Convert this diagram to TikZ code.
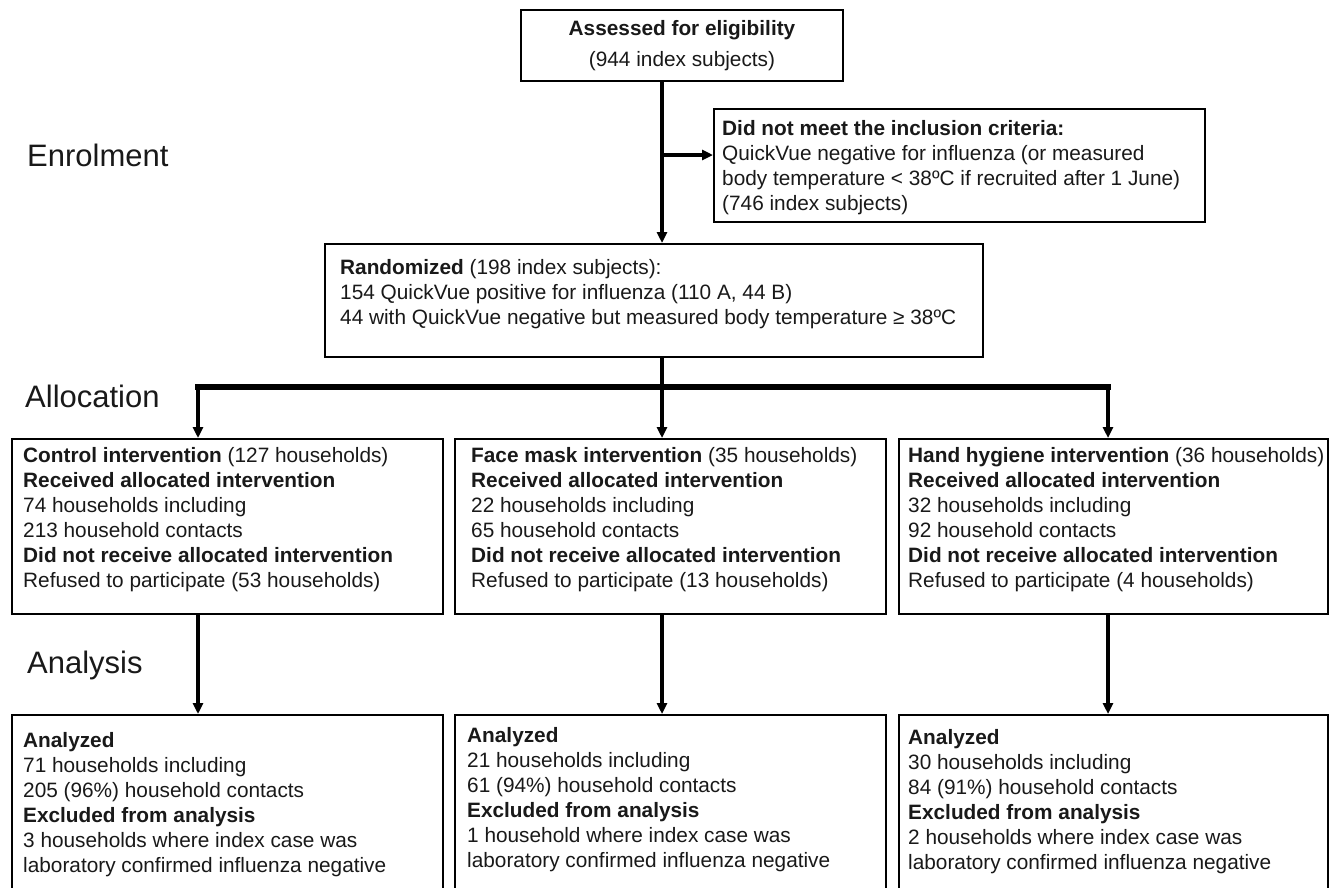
\documentclass[tikz,border=0pt]{standalone}
\usepackage{fontspec}
\setmainfont{Liberation Sans}
\usetikzlibrary{arrows.meta,calc}
\begin{document}
\begin{tikzpicture}[x=1pt,y=-1pt,
  box/.style={draw=black, line width=2pt, inner sep=0pt, anchor=north west},
  txt/.style={anchor=base west, align=left, inner sep=0pt, font=\fontsize{20.8}{25}\selectfont, text=black!90},
  lbl/.style={anchor=base west, inner sep=0pt, font=\fontsize{31}{36}\selectfont, text=black!90},
  conn/.style={line width=3.5pt},
  arr/.style={line width=3.5pt, -{Triangle[length=11pt,width=10pt]}},
  bar/.style={line width=5.5pt, line cap=rect}]
\useasboundingbox (0,0) rectangle (1329,887);
\clip (0,0) rectangle (1329,887);
\fill[white] (0,0) rectangle (1329,887);

% boxes
\node[box, minimum width=322pt, minimum height=71pt, align=center,
      font=\fontsize{20.8}{31}\selectfont, text=black!90] (assess) at (520,9)
  {\textbf{Assessed for eligibility}\\(944 index subjects)};
\node[box, minimum width=491pt, minimum height=113pt] (excl) at (713,108) {};
\node[box, minimum width=658pt, minimum height=113pt] (rand) at (324,243) {};
\node[box, minimum width=431pt, minimum height=175pt] (ctrl) at (11,438) {};
\node[box, minimum width=431pt, minimum height=175pt] (face) at (454,438) {};
\node[box, minimum width=429pt, minimum height=175pt] (hand) at (898,438) {};
\node[box, minimum width=431pt, minimum height=200pt] (actrl) at (11,714) {};
\node[box, minimum width=431pt, minimum height=200pt] (aface) at (454,714) {};
\node[box, minimum width=429pt, minimum height=200pt] (ahand) at (898,714) {};

% texts (anchored at the baseline of their last line)
\node[txt] (texcl) at (722,210) {\textbf{Did not meet the inclusion criteria:}\\
  QuickVue negative for influenza (or measured\\
  body temperature < 38ºC if recruited after 1 June)\\
  (746 index subjects)};
\node[txt] (trand) at (340,324) {\textbf{Randomized} (198 index subjects):\\
  154 QuickVue positive for influenza (110 A, 44 B)\\
  44 with QuickVue negative but measured body temperature ≥ 38ºC};
\node[txt] (tctrl) at (23,587) {\textbf{Control intervention} (127 households)\\
  \textbf{Received allocated intervention}\\
  74 households including\\
  213 household contacts\\
  \textbf{Did not receive allocated intervention}\\
  Refused to participate (53 households)};
\node[txt] (tface) at (471,587) {\textbf{Face mask intervention} (35 households)\\
  \textbf{Received allocated intervention}\\
  22 households including\\
  65 household contacts\\
  \textbf{Did not receive allocated intervention}\\
  Refused to participate (13 households)};
\node[txt] (thand) at (908,587) {\textbf{Hand hygiene intervention} (36 households)\\
  \textbf{Received allocated intervention}\\
  32 households including\\
  92 household contacts\\
  \textbf{Did not receive allocated intervention}\\
  Refused to participate (4 households)};
\node[txt] (tactrl) at (23,872) {\textbf{Analyzed}\\
  71 households including\\
  205 (96\%) household contacts\\
  \textbf{Excluded from analysis}\\
  3 households where index case was\\
  laboratory confirmed influenza negative};
\node[txt] (taface) at (467,867) {\textbf{Analyzed}\\
  21 households including\\
  61 (94\%) household contacts\\
  \textbf{Excluded from analysis}\\
  1 household where index case was\\
  laboratory confirmed influenza negative};
\node[txt] (tahand) at (908,869) {\textbf{Analyzed}\\
  30 households including\\
  84 (91\%) household contacts\\
  \textbf{Excluded from analysis}\\
  2 households where index case was\\
  laboratory confirmed influenza negative};

% stage labels
\node[lbl] (enrol) at (27,166) {Enrolment};
\node[lbl] (alloc) at (25,407) {Allocation};
\node[lbl] (anal) at (27,673) {Analysis};

% connectors
\coordinate (mx) at (662,155);
\coordinate (split) at (662,387);
\coordinate (cA) at (198,387);
\coordinate (cC) at (1108,387);
\draw[arr] (mx |- assess.south) -- (mx |- rand.north);
\draw[arr] (mx) -- (mx -| excl.west);
\draw[conn] (split |- rand.south) -- (split);
\draw[bar] (cA) -- (cC);
\draw[arr] (cA) -- (cA |- ctrl.north);
\draw[arr] (split) -- (split |- face.north);
\draw[arr] (cC) -- (cC |- hand.north);
\draw[arr] (cA |- ctrl.south) -- (cA |- actrl.north);
\draw[arr] (split |- face.south) -- (split |- aface.north);
\draw[arr] (cC |- hand.south) -- (cC |- ahand.north);
\end{tikzpicture}
\end{document}
